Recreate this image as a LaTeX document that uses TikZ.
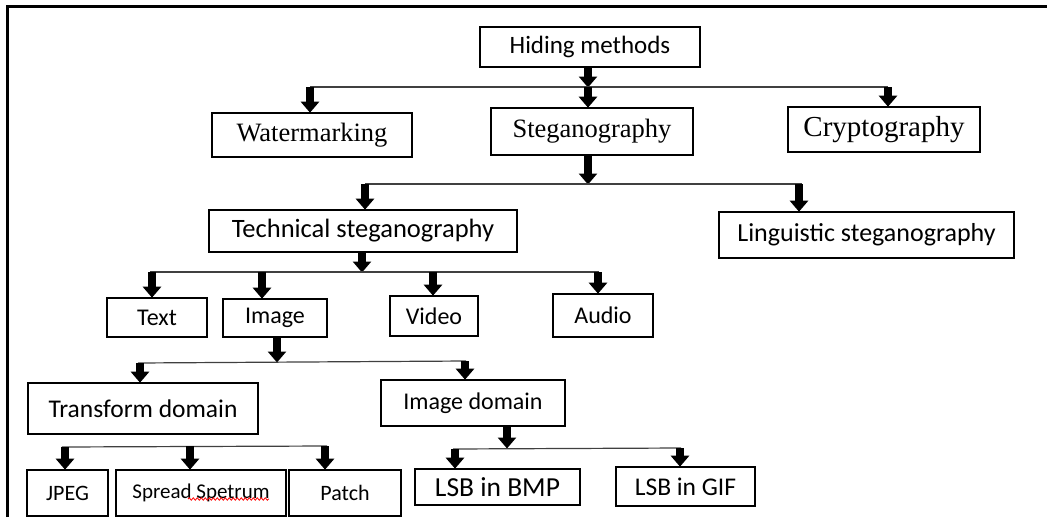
\documentclass[tikz,border=0pt]{standalone}
\usepackage{fontspec}
\setmainfont{Liberation Serif}
\newfontfamily\calfont{Carlito}
\usetikzlibrary{arrows.meta,decorations.pathmorphing}
\begin{document}
\begin{tikzpicture}[x=1pt,y=-1pt,
  box/.style={draw, line width=1.6pt, inner sep=0pt, font=\calfont\fontsize{24}{28}\selectfont},
  sbox/.style={draw, line width=1.6pt, inner sep=0pt, font=\fontsize{26.5}{30}\selectfont},
  arr/.style={line width=7.5pt, -{Triangle[width=18pt,length=11pt]}, shorten >=-0.5pt},
  hline/.style={line width=1.2pt, draw=black!75}]
\useasboundingbox (0,0) rectangle (1047,517);
% frame
\draw[line width=3pt] (7.5,517) -- (7.5,6) -- (1047,6);
% nodes
\node[box, minimum width=220pt, minimum height=40pt, font=\calfont\fontsize{25}{28}\selectfont] (hm) at (590,47) {Hiding methods};
\node[sbox, minimum width=200pt, minimum height=44pt] (wm) at (312,135) {Watermarking};
\node[sbox, minimum width=202pt, minimum height=47pt] (st) at (592,131.5) {Steganography};
\node[sbox, minimum width=192pt, minimum height=45pt, font=\fontsize{29}{32}\selectfont] (cr) at (884,129.5) {Cryptography};
\node[box, minimum width=308pt, minimum height=42pt, font=\calfont\fontsize{26.5}{30}\selectfont] (tech) at (363,231) {Technical steganography};
\node[box, minimum width=295pt, minimum height=46pt, font=\calfont\fontsize{26}{30}\selectfont] (ling) at (866.5,235) {Linguistic steganography};
\node[box, minimum width=100pt, minimum height=39pt] (text) at (157,317.5) {Text};
\node[box, minimum width=104pt, minimum height=38pt] (img) at (275,318) {Image};
\node[box, minimum width=88pt, minimum height=40pt] (vid) at (434,316) {Video};
\node[box, minimum width=100pt, minimum height=43pt] (aud) at (603,315.5) {Audio};
\node[box, minimum width=230pt, minimum height=51pt, font=\calfont\fontsize{25.5}{30}\selectfont] (tdom) at (143,408.5) {Transform domain};
\node[box, minimum width=184pt, minimum height=46pt] (idom) at (473,403) {Image domain};
\node[box, minimum width=81pt, minimum height=46pt, font=\calfont\fontsize{22}{26}\selectfont] (jpeg) at (67.5,493) {JPEG};
\node[box, minimum width=170pt, minimum height=46pt, font=\calfont\fontsize{21}{26}\selectfont] (spr) at (201,493) {Spread Spetrum};
\node[box, minimum width=112pt, minimum height=46pt, font=\calfont\fontsize{22}{26}\selectfont] (pat) at (345,493) {Patch};
\node[box, minimum width=165pt, minimum height=36pt, font=\calfont\fontsize{27.5}{30}\selectfont] (bmp) at (497.5,487) {LSB in BMP};
\node[box, minimum width=139pt, minimum height=39pt, font=\calfont\fontsize{25.5}{28}\selectfont] (gif) at (685.5,486.5) {LSB in GIF};
% spell-check squiggle
\draw[red, line width=0.8pt, decorate, decoration={snake, amplitude=1.2pt, segment length=4pt}] (188,499) -- (269,499);
% branch points
\coordinate (b1) at (588,87);
\coordinate (b2) at (588,184);
\coordinate (b3) at (362,272);
\coordinate (b4) at (277,362);
\coordinate (b5) at (190,446);
\coordinate (b6) at (507,448);
% level 1
\draw[arr] (hm.south -| b1) -- (b1);
\draw[hline] (310,87) -- (888,87);
\draw[arr] (310,87) -- (310,87 |- wm.north);
\draw[arr] (b1) -- (b1 |- st.north);
\draw[arr] (888,87) -- (888,87 |- cr.north);
% level 2
\draw[arr] (st.south -| b2) -- (b2);
\draw[hline] (365,184) -- (802,184);
\draw[arr] (365,184) -- (365,184 |- tech.north);
\draw[arr] (799,184) -- (799,184 |- ling.north);
% level 3
\draw[arr] (tech.south -| b3) -- (b3);
\draw[hline] (150,272) -- (599,272);
\draw[arr] (152,272) -- (152,272 |- text.north);
\draw[arr] (262,272) -- (262,272 |- img.north);
\draw[arr] (433,272) -- (433,272 |- vid.north);
\draw[arr] (598,272) -- (598,272 |- aud.north);
% level 4
\draw[arr] (img.south -| b4) -- (b4);
\draw[hline] (138,363) -- (466,361);
\draw[arr] (140,363) -- (140,363 |- tdom.north);
\draw[arr] (465,361) -- (465,361 |- idom.north);
% level 5a
\draw[hline] (62,447) -- (327,446);
\draw[arr] (65,447) -- (65,447 |- jpeg.north);
\draw[arr] (b5) -- (b5 |- spr.north);
\draw[arr] (325,446) -- (325,446 |- pat.north);
% level 5b
\draw[arr] (idom.south -| b6) -- (b6);
\draw[hline] (453,449) -- (681,448);
\draw[arr] (455,449) -- (455,449 |- bmp.north);
\draw[arr] (680,448) -- (680,448 |- gif.north);
\end{tikzpicture}
\end{document}
